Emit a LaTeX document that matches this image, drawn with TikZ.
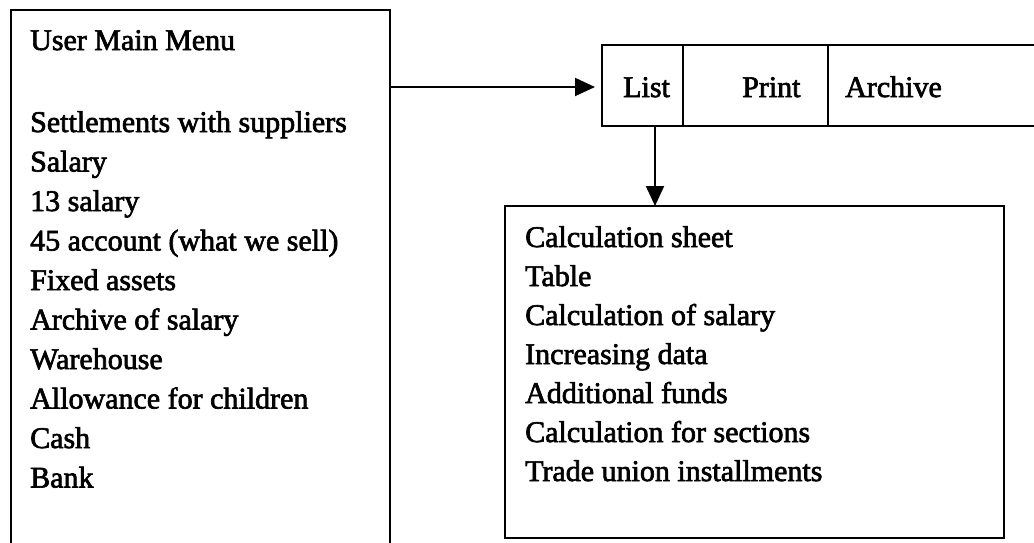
\documentclass[tikz,border=0pt]{standalone}
\usepackage{fontspec}
\setmainfont{Liberation Serif}
\newfontfamily\inkfont{Liberation Serif}[FakeBold=2.2]
\usetikzlibrary{arrows.meta}
\begin{document}
\begin{tikzpicture}[x=1pt,y=-1pt,
  frame/.style={draw, line width=2.2pt, inner sep=0pt, outer sep=0pt, anchor=north west},
  lbl/.style={anchor=base west, inner sep=0pt, font=\inkfont\fontsize{30}{39.5}\selectfont},
  link/.style={line width=2pt, -{Triangle[length=20pt,width=18pt]}}]
\useasboundingbox (0,0) rectangle (1034,542);
\clip (0,0) rectangle (1034,542);

% main menu frame (runs past the lower edge)
\node[frame, minimum width=379pt, minimum height=560pt] (menu) at (11,10) {};
\node[lbl] (title) at (30,50) {User Main Menu};
\foreach [count=\i from 0] \t in {Settlements with suppliers, Salary, 13 salary,
    {45 account (what we sell)}, Fixed assets, Archive of salary, Warehouse,
    Allowance for children, Cash, Bank}
  \node[lbl] (m\i) at (30,132+39.5*\i) {\t};

% tab strip: List | Print | Archive
\node[frame, minimum width=81pt, minimum height=81pt] (listtab) at (602,45) {};
\node[frame, minimum width=145pt, minimum height=81pt] (printtab) at (683,45) {};
\node[frame, minimum width=260pt, minimum height=81pt] (archtab) at (828,45) {};
\node[lbl] (listlbl) at (623,97) {List};
\node[lbl] (printlbl) at (742,97) {Print};
\node[lbl] (archlbl) at (845,97) {Archive};

% submenu of List
\node[frame, minimum width=499pt, minimum height=332pt] (sheet) at (505,206) {};
\foreach [count=\i from 0] \t in {Calculation sheet, Table, Calculation of salary,
    Increasing data, Additional funds, Calculation for sections,
    Trade union installments}
  \node[lbl] (s\i) at (525,247+39*\i) {\t};

% connectors
\draw[link, shorten >=7pt] (menu.east |- 0,87) -- (listtab.west |- 0,87);
\draw[link] ([xshift=12.5pt]listtab.south) -- ([xshift=12.5pt]listtab.south |- sheet.north);
\end{tikzpicture}
\end{document}
